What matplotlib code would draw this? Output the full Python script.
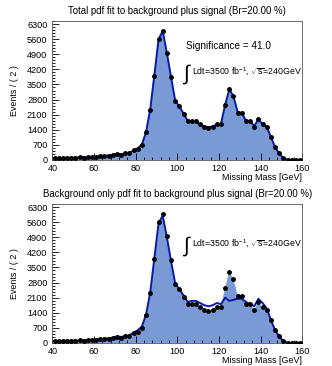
import numpy as np
import matplotlib
matplotlib.use("Agg")
import matplotlib.pyplot as plt
from matplotlib.ticker import MultipleLocator

plt.rcParams["font.family"] = ["Liberation Sans", "DejaVu Sans"]
plt.rcParams["mathtext.fontset"] = "custom"
plt.rcParams["mathtext.rm"] = "Liberation Sans"
plt.rcParams["mathtext.it"] = "Liberation Sans"
plt.rcParams["hatch.color"] = "#a9c0ea"
plt.rcParams["hatch.linewidth"] = 0.6

# bin centres [GeV]
mass = np.arange(41, 160, 2)
# data (background + signal), events / 2 GeV
data = [80, 90, 95, 100, 110, 90, 130, 110, 140, 150,
        140, 170, 200, 200, 230, 290, 250, 300, 320, 450,
        530, 700, 1300, 2300, 3900, 5600, 6000, 4950, 3850, 2750,
        2500, 2150, 1800, 1800, 1800, 1650, 1550, 1500, 1550, 1650,
        1650, 2550, 3300, 2950, 2200, 2200, 1800, 1800, 1550, 1900,
        1650, 1550, 1050, 600, 300, 80, 10, 5, 5, 5]
# total pdf (signal + background) fit
fit_total = [80, 88, 95, 100, 105, 100, 120, 115, 135, 145,
             145, 170, 195, 205, 230, 280, 260, 295, 330, 440,
             540, 720, 1300, 2350, 3950, 5600, 5980, 4950, 3850, 2750,
             2480, 2150, 1820, 1800, 1780, 1650, 1560, 1510, 1560, 1640,
             1680, 2560, 3280, 2950, 2230, 2180, 1820, 1780, 1580, 1880,
             1660, 1540, 1060, 600, 300, 80, 12, 5, 5, 5]
# background-only pdf fit
fit_bkg = [80, 88, 95, 100, 105, 100, 120, 115, 135, 145,
           150, 175, 205, 215, 245, 300, 280, 320, 360, 480,
           590, 770, 1320, 2350, 3950, 5550, 5900, 4900, 3800, 2750,
           2500, 2200, 1900, 1950, 1950, 1850, 1750, 1700, 1750, 1850,
           1800, 2100, 1950, 2000, 2050, 2050, 1900, 1800, 1700, 2050,
           1850, 1600, 1060, 600, 300, 80, 12, 5, 5, 5]

titles = ["Total pdf fit to background plus signal (Br=20.00 %)",
          "Background only pdf fit to background plus signal (Br=20.00 %)"]
fits = [fit_total, fit_bkg]
significance = "Significance = 41.0"

fig = plt.figure(figsize=(3.32, 3.66), dpi=100)
boxes = [[0.158, 0.563, 0.752, 0.380], [0.158, 0.063, 0.752, 0.380]]

for i in range(2):
    ax = fig.add_axes(boxes[i])
    d = np.array(data)
    ax.fill_between(mass, 0, d, facecolor="#7a9ad6", edgecolor="#7a9ad6",
                    linewidth=0.0, hatch="....", zorder=1)
    ax.plot(mass, fits[i], color="#0a1aa8", lw=1.4, zorder=3)
    err = np.sqrt(d)
    ax.errorbar(mass, d, yerr=err, fmt="o", color="black", ms=2.5,
                elinewidth=0.7, capsize=0, zorder=4)
    ax.set_xlim(40, 160)
    ax.set_ylim(0, 6450)
    ax.xaxis.set_major_locator(MultipleLocator(20))
    ax.xaxis.set_minor_locator(MultipleLocator(4))
    ax.yaxis.set_major_locator(MultipleLocator(700))
    ax.yaxis.set_minor_locator(MultipleLocator(140))
    ax.tick_params(which="both", direction="in", labelsize=6.6,
                   width=0.6, top=False, right=False)
    ax.tick_params(axis="y", pad=3.6)
    ax.tick_params(axis="x", pad=3)
    ax.tick_params(which="major", length=5)
    ax.tick_params(which="minor", length=2.5)
    for s in ax.spines.values():
        s.set_linewidth(0.6)
        s.set_color("#555555")
    ax.set_ylabel("Events / ( 2 )", fontsize=6.4, labelpad=6)
    ax.set_xlabel("Missing Mass [GeV]", fontsize=6.4, labelpad=0.2, loc="right")
    ax.set_title(titles[i], fontsize=6.9, pad=5)
    if i == 0:
        ax.text(0.535, 0.82, significance, transform=ax.transAxes,
                fontsize=7.2, va="center")
        iy = 0.62
    else:
        iy = 0.70
    ax.text(0.52, iy, r"$\int$", transform=ax.transAxes, fontsize=15,
            va="center", family="DejaVu Sans")
    ax.text(0.56, iy + 0.01, r"Ldt=3500 fb$^{-1}$, $\sqrt{s}$=240GeV",
            transform=ax.transAxes, fontsize=6.3, va="center")

fig.savefig("out.png", dpi=100)
